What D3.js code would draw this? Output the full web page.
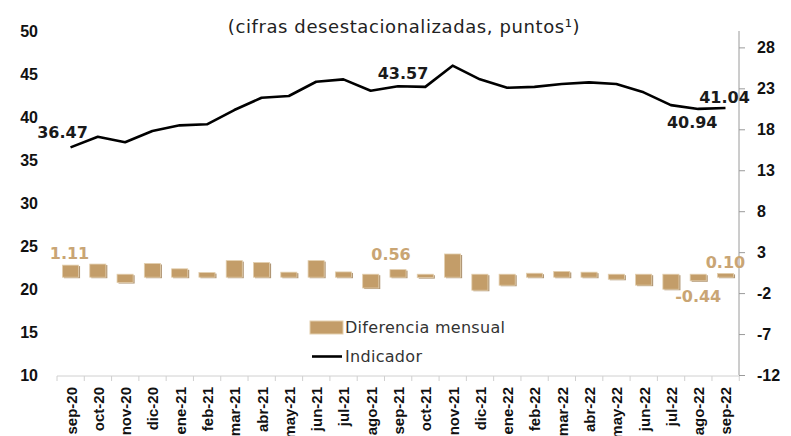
<!DOCTYPE html>
<html>
<head>
<meta charset="utf-8">
<script src="https://cdn.jsdelivr.net/npm/d3@7"></script>
<style>
  body { margin: 0; background: #fff; }
  svg { display: block; }
</style>
</head>
<body>
<div id="chart"></div>
<script>
var width = 791,
        height = 436;

var meses = ["sep-20", "oct-20", "nov-20", "dic-20", "ene-21", "feb-21", "mar-21", "abr-21", "may-21",
    "jun-21", "jul-21", "ago-21", "sep-21", "oct-21", "nov-21", "dic-21", "ene-22", "feb-22", "mar-22",
    "abr-22", "may-22", "jun-22", "jul-22", "ago-22", "sep-22"];
var indicador = [36.47, 37.71, 37.06, 38.37, 39.03, 39.15, 40.81, 42.24, 42.44,
    44.10, 44.38, 43.06, 43.57, 43.50, 45.97, 44.38, 43.40, 43.50, 43.84,
    44.03, 43.84, 42.87, 41.38, 40.94, 41.04];
var diferencia = [1.11, 1.24, -0.65, 1.31, 0.66, 0.20, 1.66, 1.43, 0.25,
    1.66, 0.28, -1.32, 0.56, -0.05, 2.47, -1.59, -0.98, 0.12, 0.34,
    0.25, -0.25, -0.97, -1.47, -0.44, 0.10];
var ticksIzq = [10, 15, 20, 25, 30, 35, 40, 45, 50];
var ticksDer = [-12, -7, -2, 3, 8, 13, 18, 23, 28];
// etiquetas que se muestran en la grafica
var etiquetasLinea = ["sep-20", "sep-21", "ago-22", "sep-22"];
var etiquetasBarra = ["sep-20", "sep-21", "ago-22", "sep-22"];

var mLeft = 57, mRight = 739, mTop = 31, mBottom = 375;

var svg = d3.select("#chart").append("svg")
        .attr("width", width)
        .attr("height", height);

var x = d3.scaleBand()
        .domain(meses)
        .range([mLeft, mRight])
        .paddingInner(0.41)
        .paddingOuter(0.2);

var yIzq = d3.scaleLinear().domain([10, 50]).range([mBottom, mTop]);
var yDer = d3.scaleLinear().domain([-12, 30]).range([mBottom, mTop]);

var gothic = "'DejaVu Sans', 'Liberation Sans', sans-serif";
var arial = "'Liberation Sans', Arial, sans-serif";
var tan = "#c39d69";

// titulo
svg.append("text")
        .attr("x", 404)
        .attr("y", 33)
        .attr("text-anchor", "middle")
        .attr("font-family", gothic)
        .attr("font-size", 18)
        .attr("letter-spacing", 0.6)
        .attr("fill", "#222")
        .text("(cifras desestacionalizadas, puntos\u00b9)");

// eje izquierdo, sin linea
var ejeIzq = svg.append("g")
        .attr("transform", "translate(" + mLeft + ",0)")
        .call(d3.axisLeft(yIzq).tickValues(ticksIzq).tickSize(0).tickPadding(19));
ejeIzq.select(".domain").remove();
ejeIzq.selectAll("text")
        .attr("font-family", arial)
        .attr("font-weight", "bold")
        .attr("font-size", 16)
        .attr("fill", "#111");

// eje derecho
var ejeDer = svg.append("g")
        .attr("transform", "translate(" + mRight + ",0)")
        .call(d3.axisRight(yDer).tickValues(ticksDer).tickSize(6).tickPadding(12)
                .tickFormat(function (d) { return String(d); }));
ejeDer.select(".domain").attr("stroke", "#9a9a9a").attr("d", "M0," + mTop + "V" + mBottom);
ejeDer.selectAll("line").attr("stroke", "#9a9a9a");
ejeDer.selectAll("text")
        .attr("font-family", arial)
        .attr("font-weight", "bold")
        .attr("font-size", 16)
        .attr("fill", "#111");

// eje x
var ejeX = svg.append("g")
        .attr("transform", "translate(0," + (mBottom + 1) + ")")
        .call(d3.axisBottom(x).tickSize(0).tickPadding(0));
ejeX.select(".domain").attr("stroke", "#d0d0d0").attr("d", "M" + mLeft + ",0H" + mRight);
ejeX.selectAll("text")
        .attr("font-family", arial)
        .attr("font-weight", "bold")
        .attr("font-size", 15)
        .attr("fill", "#111")
        .attr("text-anchor", "end")
        .attr("transform", "rotate(-90)")
        .attr("x", -11)
        .attr("y", 0)
        .attr("dy", "0.4em");
// marcas entre categorias
svg.append("g").selectAll("line")
        .data(meses.concat(["fin"]))
        .enter().append("line")
        .attr("x1", function (d, i) { return mLeft + i * x.step(); })
        .attr("x2", function (d, i) { return mLeft + i * x.step(); })
        .attr("y1", mBottom + 1)
        .attr("y2", mBottom + 6)
        .attr("stroke", "#d0d0d0");

// barras
var barras = svg.append("g").attr("id", "barras");
var cero = yDer(0);
barras.selectAll(".sombra")
        .data(diferencia)
        .enter().append("rect")
        .attr("x", function (d, i) { return x(meses[i]) + 1.5; })
        .attr("y", function (d) { return Math.min(yDer(d), cero) - 1.5; })
        .attr("width", x.bandwidth())
        .attr("height", function (d) { return Math.abs(yDer(d) - cero) + 3; })
        .attr("fill", "#9c7c52")
        .attr("opacity", 0.8);
barras.selectAll(".barra")
        .data(diferencia)
        .enter().append("rect")
        .attr("x", function (d, i) { return x(meses[i]); })
        .attr("y", function (d) { return Math.min(yDer(d), cero) - 2.5; })
        .attr("width", x.bandwidth())
        .attr("height", function (d) { return Math.abs(yDer(d) - cero) + 3; })
        .attr("fill", tan)
        .attr("stroke", "#e3cfae")
        .attr("stroke-width", 0.8);

// linea del indicador
var linea = d3.line()
        .x(function (d, i) { return x(meses[i]) + x.bandwidth() / 2; })
        .y(function (d) { return yIzq(d); });
svg.append("path")
        .datum(indicador)
        .attr("d", linea)
        .attr("fill", "none")
        .attr("stroke", "#000")
        .attr("stroke-width", 2.6)
        .attr("stroke-linejoin", "round");

// etiquetas de datos
var despLinea = { "sep-20": [-8, -9], "sep-21": [5, -7], "ago-22": [-6, 19], "sep-22": [-1, -5] };
svg.append("g").selectAll("text")
        .data(etiquetasLinea)
        .enter().append("text")
        .attr("x", function (d) { return x(d) + x.bandwidth() / 2 + despLinea[d][0]; })
        .attr("y", function (d) { return yIzq(indicador[meses.indexOf(d)]) + despLinea[d][1]; })
        .attr("text-anchor", "middle")
        .attr("font-family", gothic)
        .attr("font-weight", "bold")
        .attr("font-size", 16)
        .attr("fill", "#1a1a1a")
        .text(function (d) { return indicador[meses.indexOf(d)].toFixed(2); });

var despBarra = { "sep-20": [-1, -9], "sep-21": [-7, -12], "ago-22": [0, 22], "sep-22": [0, -8] };
svg.append("g").selectAll("text")
        .data(etiquetasBarra)
        .enter().append("text")
        .attr("x", function (d) { return x(d) + x.bandwidth() / 2 + despBarra[d][0]; })
        .attr("y", function (d) { return yDer(diferencia[meses.indexOf(d)]) + despBarra[d][1]; })
        .attr("text-anchor", "middle")
        .attr("font-family", gothic)
        .attr("font-weight", "bold")
        .attr("font-size", 16)
        .attr("fill", "#c9a574")
        .text(function (d) { return diferencia[meses.indexOf(d)].toFixed(2); });

// leyenda
var leyenda = svg.append("g").attr("id", "leyenda");
leyenda.append("rect")
        .attr("x", 310).attr("y", 321)
        .attr("width", 33).attr("height", 13)
        .attr("fill", tan)
        .attr("stroke", "#e3cfae");
leyenda.append("text")
        .attr("x", 345).attr("y", 333)
        .attr("font-family", gothic)
        .attr("font-size", 16)
        .attr("letter-spacing", 0.3)
        .attr("fill", "#333")
        .text("Diferencia mensual");
leyenda.append("line")
        .attr("x1", 312).attr("x2", 342)
        .attr("y1", 356.5).attr("y2", 356.5)
        .attr("stroke", "#000")
        .attr("stroke-width", 2.6);
leyenda.append("text")
        .attr("x", 345).attr("y", 362)
        .attr("font-family", gothic)
        .attr("font-size", 16)
        .attr("letter-spacing", 0.3)
        .attr("fill", "#333")
        .text("Indicador");
</script>
</body>
</html>
